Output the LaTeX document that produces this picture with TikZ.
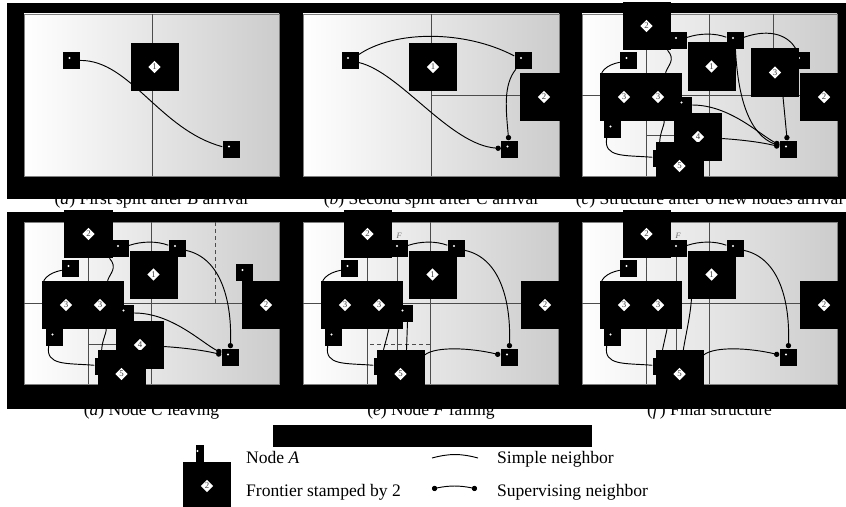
\documentclass[tikz,border=0pt]{standalone}
\usepackage{fontspec}
\setmainfont{Liberation Serif}
\usetikzlibrary{shapes.geometric,arrows.meta}

\begin{document}
\begin{tikzpicture}[x=0.03cm, y=-0.03cm, font=\fontsize{15}{18}\selectfont,
    panel/.style={left color=white, right color=black!20, draw=black!50, line width=0.6pt},
    divline/.style={draw=black!70, line width=0.6pt},
    nd/.style={fill=black, inner sep=0, minimum size=0.51cm,
      path picture={\fill[white] ([shift={(-0.06cm,0.075cm)}]path picture bounding box.center) circle (0.035cm);}},
    fr/.style={fill=black, inner sep=0, minimum size=1.44cm, label={[dia]center:#1}},
    dia/.style={diamond, fill=white, inner sep=0, minimum size=0.38cm, text=black!75, font=\fontsize{7.5}{7.5}\selectfont},
    wire/.style={draw=black, line width=0.8pt},
    sup/.style={wire, -{Circle[length=4.5pt]}},
    flab/.style={inner sep=0.5pt, text=black!60, font=\fontsize{7}{7}\selectfont\itshape}]
    \useasboundingbox (0,0) rectangle (846,506);

    \node[anchor=base] (capa) at (151.5,204) {(\textit{a}) First split after \textit{B} arrival};
    \node[anchor=base] (capb) at (431,204) {(\textit{b}) Second split after \textit{C} arrival};
    \node[anchor=base] (capc) at (709.5,204) {(\textit{c}) Structure after 6 new nodes arrival};
    \node[anchor=base] (capd) at (151.5,415) {(\textit{d}) Node \textit{C} leaving};
    \node[anchor=base] (cape) at (431,415) {(\textit{e}) Node \textit{F} failing};
    \node[anchor=base] (capf) at (709.5,415) {(\textit{f}) Final structure};

    \fill (7,3) rectangle (846,199);
    \fill (7,212) rectangle (846,409);
    \fill (273,425) rectangle (592,447);

    % (a)
    \shadedraw[panel] (24,14) rectangle (279,176);
    \draw[divline] (152,14) -- (152,176);
    \node[nd] (a1) at (71.5,60.5) {};
    \node[fr=1] (af1) at (154.5,67) {};
    \node[nd] (a2) at (231,149) {};
    \draw[wire] (a1) .. controls (130,60) and (160,130) .. (a2);

    % (b)
    \shadedraw[panel] (303,14) rectangle (559,176);
    \draw[divline] (431,14) -- (431,176) (431,95) -- (559,95);
    \node[nd] (b1) at (350,60.5) {};
    \node[fr=1] (bf1) at (433,67) {};
    \node[nd] (b2) at (523,60.5) {};
    \node[fr=2] (bf2) at (544,97) {};
    \node[nd] (b3) at (509.5,149) {};
    \draw[wire] (b1) .. controls (395,30) and (465,30) .. (b2);
    \draw[sup] (b1) .. controls (400,72) and (450,145) .. (b3);
    \draw[sup] (b2) .. controls (503,85) and (506,110) .. (b3);

    % (c)
    \shadedraw[panel] (582,14) rectangle (837,176);
    \draw[divline] (646,14) -- (646,176) (709,14) -- (709,176) (773,14) -- (773,95)
      (582,95) -- (837,95) (646,135) -- (680,135);
    \node[nd] (c8) at (661,158) {};
    \node[nd] (c4) at (801,60.5) {};
    \node[fr=2] (cf1) at (646.5,26) {};
    \node[fr=1] (cf2) at (711.5,66.5) {};
    \node[fr=3] (cf3) at (775,72.5) {};
    \node[fr=2] (cf4) at (824,97) {};
    \node[fr=3] (cf5) at (624,97) {};
    \node[fr=3] (cf6) at (658,97) {};
    \node[fr=4] (cf7) at (698,137) {};
    \node[fr=5] (cf8) at (679.5,166) {};
    \node[nd] (c1) at (678,40.5) {};
    \node[nd] (c2) at (735,40.5) {};
    \node[nd] (c3) at (628.5,60.5) {};
    \node[nd] (c5) at (683.5,105) {};
    \node[nd] (c6) at (612.5,129) {};
    \node[nd] (c7) at (788,149) {};
    \draw[wire] (c1) .. controls (700,33) and (715,33) .. (c2);
    \draw[wire] (c2) .. controls (770,28) and (790,35) .. (c4);
    \draw[sup] (c2) .. controls (738,100) and (750,135) .. (c7);
    \draw[sup] ([shift={(8,0)}]cf3.south) -- (c7);
    \draw[sup] (c5) .. controls (730,105) and (760,135) .. (c7);
    \draw[sup] (cf7) .. controls (745,140) and (765,143) .. (c7);
    \draw[wire] (c3) .. controls (606,65) and (599,72) .. ([shift={(1,8)}]cf5.north west);
    \draw[wire] ([shift={(3,0)}]c6.south west) .. controls (603,158) and (625,155) .. (c8);
    \draw[wire] (cf6) .. controls (665,125) and (658,135) .. (c8);
    \draw[wire] (cf1) .. controls (676,60) and (668,65) .. (cf6);

    % (d)
    \begin{scope}[shift={(-558,208)}]
    \shadedraw[panel] (582,14) rectangle (837,176);
    \draw[divline] (646,14) -- (646,176) (709,14) -- (709,176) (582,95) -- (837,95) (646,136) -- (676,136);
    \draw[divline, dashed] (773,14) -- (773,95);
    \node[nd] (d8) at (661,158) {};
    \node[fr=2] (df1) at (646.5,26) {};
    \node[fr=1] (df2) at (711.5,66.5) {};
    \node[fr=2] (df4) at (824,97) {};
    \node[fr=3] (df5) at (624,97) {};
    \node[fr=3] (df6) at (658,97) {};
    \node[fr=4] (df7) at (698,137) {};
    \node[fr=5] (df8) at (679.5,166) {};
    \node[nd] (d1) at (678,40.5) {};
    \node[nd] (d2) at (735,40.5) {};
    \node[nd] (d3) at (628.5,60.5) {};
    \node[nd] (d4) at (802.5,64.5) {};
    \node[nd] (d5) at (683.5,105) {};
    \node[nd] (d6) at (612.5,129) {};
    \node[nd] (d7) at (788,149) {};
    \draw[wire] (d1) .. controls (700,33) and (715,33) .. (d2);
    \draw[sup] (d2) .. controls (780,50) and (790,95) .. (d7);
    \draw[sup] (d5) .. controls (730,105) and (760,135) .. (d7);
    \draw[sup] (df7) .. controls (745,140) and (765,143) .. (d7);
    \draw[wire] (d3) .. controls (606,65) and (599,72) .. ([shift={(1,8)}]df5.north west);
    \draw[wire] ([shift={(3,0)}]d6.south west) .. controls (603,158) and (625,155) .. (d8);
    \draw[wire] (df6) .. controls (665,125) and (658,135) .. (d8);
    \draw[wire] (df1) .. controls (676,60) and (668,65) .. (df6);
    \end{scope}

    % (e)
    \begin{scope}[shift={(-279,208)}]
    \shadedraw[panel] (582,14) rectangle (837,176);
    \draw[divline] (646,14) -- (646,176) (709,14) -- (709,176) (676,49) -- (676,176) (582,95) -- (837,95);
    \draw[divline, dashed] (649,136) -- (709,136);
    \node[nd] (e8) at (661,158) {};
    \node[fr=2] (ef1) at (646.5,26) {};
    \node[fr=1] (ef2) at (711.5,66.5) {};
    \node[fr=2] (ef4) at (824,97) {};
    \node[fr=3] (ef5) at (624,97) {};
    \node[fr=3] (ef6) at (658,97) {};
    \node[fr=5] (ef8) at (679.5,166) {};
    \node[nd, label={[flab]above:F}] (e1) at (678,40.5) {};
    \node[nd] (e2) at (735,40.5) {};
    \node[nd] (e3) at (628.5,60.5) {};
    \node[nd] (e5) at (683.5,105) {};
    \node[nd] (e6) at (612.5,129) {};
    \node[nd] (e7) at (788,149) {};
    \draw[wire] (e1) .. controls (700,33) and (715,33) .. (e2);
    \draw[sup] (e2) .. controls (780,50) and (790,95) .. (e7);
    \draw[sup] (ef8) .. controls (715,138) and (750,140) .. (e7);
    \draw[wire] (e3) .. controls (606,65) and (599,72) .. ([shift={(1,8)}]ef5.north west);
    \draw[wire] ([shift={(3,0)}]e6.south west) .. controls (603,158) and (625,155) .. (e8);
    \draw[wire] ([shift={(10,0)}]ef6.south) -- ([shift={(-17,0)}]ef8.north);
    \draw[wire] ([shift={(3,0)}]e5.south) -- ([shift={(6,0)}]ef8.north);
    \end{scope}

    % (f)
    \begin{scope}[shift={(0,208)}]
    \shadedraw[panel] (582,14) rectangle (837,176);
    \draw[divline] (646,14) -- (646,176) (709,14) -- (709,176) (676,49) -- (676,176) (582,95) -- (837,95);
    \node[nd] (f8) at (661,158) {};
    \node[fr=2] (ff1) at (646.5,26) {};
    \node[fr=1] (ff2) at (711.5,66.5) {};
    \node[fr=2] (ff4) at (824,97) {};
    \node[fr=3] (ff5) at (624,97) {};
    \node[fr=3] (ff6) at (658,97) {};
    \node[fr=5] (ff8) at (679.5,166) {};
    \node[nd, label={[flab]above:F}] (f1) at (678,40.5) {};
    \node[nd] (f2) at (735,40.5) {};
    \node[nd] (f3) at (628.5,60.5) {};
    \node[nd] (f6) at (612.5,129) {};
    \node[nd] (f7) at (788,149) {};
    \draw[wire] (f1) .. controls (700,33) and (715,33) .. (f2);
    \draw[sup] (f2) .. controls (780,50) and (790,95) .. (f7);
    \draw[sup] (ff8) .. controls (715,138) and (750,140) .. (f7);
    \draw[wire] (f3) .. controls (606,65) and (599,72) .. ([shift={(1,8)}]ff5.north west);
    \draw[wire] ([shift={(3,0)}]f6.south west) .. controls (603,158) and (625,155) .. (f8);
    \draw[wire] ([shift={(9,0)}]ff6.south) -- ([shift={(-17,0)}]ff8.north);
    \draw[wire] ([shift={(-20,0)}]ff2.south) .. controls (690,110) and (686,125) .. (ff8);
    \end{scope}

    % legend
    \node[nd, minimum width=0.24cm] (lgnd) at (199.5,453.5) {};
    \node[fr=2] (lgfr) at (207,486) {};
    \node[anchor=base west] (lgta) at (242,463) {Node \textit{A}};
    \node[anchor=base west] (lgtb) at (242,496) {Frontier stamped by 2};
    \node[anchor=base west] (lgtc) at (493,463) {Simple neighbor};
    \node[anchor=base west] (lgtd) at (493,496) {Supervising neighbor};
    \coordinate (ls1) at (432,458);
    \coordinate (ls2) at (478,458);
    \coordinate (lv1) at (432,489);
    \coordinate (lv2) at (477,489);
    \draw[wire] (ls1) to[bend left=15] (ls2);
    \draw[wire, {Circle[length=4.5pt]}-{Circle[length=4.5pt]}] (lv1) to[bend left=12] (lv2);
\end{tikzpicture}
\end{document}
